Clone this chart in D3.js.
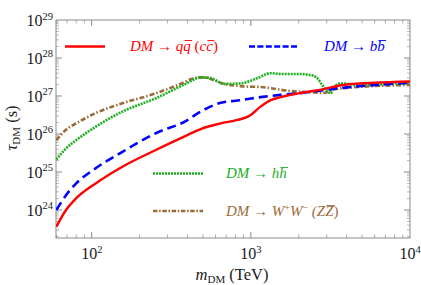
<!DOCTYPE html>
<html><head><meta charset="utf-8">
<script src="https://cdn.jsdelivr.net/npm/d3@7"></script>
<style>
body{margin:0;background:#fff;}
svg text{font-family:"Liberation Serif","Times New Roman","DejaVu Serif",serif;}
</style></head>
<body><svg id="c" width="421" height="285" font-family="Liberation Serif, serif"></svg>
<script>
// Data: mass in TeV, lifetime log10(seconds)
const massQQ = [60,69,80,106,156,253,390,484,647,823,973,1151,1331,1537,1995,2860,3817,10000];
const tauQQ  = [23.56,24.0,24.31,24.70,25.14,25.58,25.95,26.13,26.28,26.37,26.47,26.72,26.89,26.97,27.07,27.18,27.29,27.38];
const massBB = [60,69,80,106,156,253,390,484,647,863,1151,1537,1995,3487,10000];
const tauBB  = [24.0,24.39,24.70,25.10,25.53,26.02,26.34,26.59,26.82,26.89,26.97,27.03,27.07,27.20,27.35];
const massHH = [60,69,80,106,156,253,390,484,560,676,863,1099,1331,1537,1995,2372,2614,2808,3017,3164,3305,3550,3817,4655,10000];
const tauHH  = [25.33,25.62,25.84,26.19,26.59,26.94,27.32,27.49,27.47,27.32,27.33,27.47,27.60,27.58,27.58,27.55,27.47,27.29,27.14,27.07,27.20,27.32,27.33,27.29,27.35];
const massWW = [60,69,80,106,156,253,390,419,506,585,676,863,1203,1777,2372,2860,3305,4224,10000];
const tauWW  = [25.84,26.11,26.28,26.55,26.81,27.07,27.38,27.44,27.49,27.42,27.32,27.26,27.23,27.13,27.10,27.08,27.17,27.22,27.29];
const xTicks = [100,1000,10000];
const yTicks = [24,25,26,27,28,29];

const FONT='"Liberation Serif","Times New Roman",serif';
const svg = d3.select("#c");
const L=56,R=410,T=20,B=238;
const x = d3.scaleLog().domain([59.7,10000]).range([L,R]);
const y = d3.scaleLinear().domain([23.263,29]).range([B,T]);

const frameCol="#8a8a8a";
const g = svg.append("g");
function tickLine(x1,y1,x2,y2,w,c){g.append("line").attr("x1",x1).attr("y1",y1).attr("x2",x2).attr("y2",y2).attr("stroke",c||frameCol).attr("stroke-width",w||0.8);}
for(let d=1;d<=3;d++){
  for(let k=1;k<10;k++){
    const v=k*Math.pow(10,d); if(v<59.7||v>10000) continue;
    const px=x(v); const major=k===1;
    const len=major?6:3.5;
    tickLine(px,B,px,B-len,major?1:0.7);
    tickLine(px,T,px,T+len,major?1:0.7);
  }
}
for(let d=23;d<29;d++){
  for(let k=1;k<10;k++){
    const lv=d+Math.log10(k); if(lv<23.263||lv>29) continue;
    const py=y(lv); const major=k===1;
    const len=major?6:3;
    tickLine(L,py,L+len,py,major?1:0.6);
    tickLine(R,py,R-len,py,major?1:0.6);
  }
}
svg.append("rect").attr("x",L).attr("y",T).attr("width",R-L).attr("height",B-T).attr("fill","none").attr("stroke",frameCol).attr("stroke-width",1);

function T_(sel){return sel.append("text").style("font-family",FONT);}

// tick labels
xTicks.forEach(v=>{
  const t=T_(svg).attr("x",x(v)-10.5).attr("y",259).attr("font-size",16).attr("fill","#1a1a1a");
  t.append("tspan").text("10");
  t.append("tspan").attr("dy",-6.5).attr("font-size",10.5).text(Math.round(Math.log10(v)));
});
yTicks.forEach(v=>{
  const t=T_(svg).attr("x",53).attr("y",y(v)+6).attr("text-anchor","end").attr("font-size",16).attr("fill","#1a1a1a");
  t.append("tspan").text("10");
  t.append("tspan").attr("dy",-6.5).attr("font-size",10.5).text(v);
});

// axis titles
const xt=T_(svg).attr("x",232).attr("y",280).attr("text-anchor","middle").attr("font-size",16.5).attr("fill","#1a1a1a");
xt.append("tspan").attr("font-style","italic").text("m");
xt.append("tspan").attr("font-size",11).attr("dy",2.5).text("DM");
xt.append("tspan").attr("dy",-2.5).text(" (TeV)");
const yt=T_(svg).attr("transform","translate(17,128) rotate(-90)").attr("text-anchor","middle").attr("font-size",16.5).attr("fill","#1a1a1a");
yt.append("tspan").attr("font-style","italic").text("τ");
yt.append("tspan").attr("font-size",11).attr("dy",3).text("DM");
yt.append("tspan").attr("dy",-3).text(" (s)");

// curves
svg.append("clipPath").attr("id","clip").append("rect").attr("x",L).attr("y",T).attr("width",R-L).attr("height",B-T);
const line=d3.line().x(d=>x(d[0])).y(d=>y(d[1])).curve(d3.curveMonotoneX);
const series=[
 {m:massWW,t:tauWW,c:"#9c6b3a",dash:"5,2,1.5,2",w:2.6},
 {m:massHH,t:tauHH,c:"#1fae1f",dash:"2,1",w:2.6},
 {m:massBB,t:tauBB,c:"#0000ff",dash:"9,5",w:2.6},
 {m:massQQ,t:tauQQ,c:"#ff0000",dash:null,w:2.4},
];
const cg=svg.append("g").attr("clip-path","url(#clip)");
series.forEach(s=>{
  cg.append("path").datum(s.m.map((v,i)=>[v,s.t[i]])).attr("d",line).attr("fill","none")
   .attr("stroke",s.c).attr("stroke-width",s.w).attr("stroke-dasharray",s.dash);
});

// legend
function legLine(x1,x2,yy,c,dash){svg.append("line").attr("x1",x1).attr("x2",x2).attr("y1",yy).attr("y2",yy).attr("stroke",c).attr("stroke-width",2.6).attr("stroke-dasharray",dash);}
legLine(65,105,46.5,"#ff0000",null);
legLine(249,297,46.5,"#0000ff","6,2.4");
legLine(153,203,173.5,"#1fae1f","2,1");
legLine(153,203,211,"#9c6b3a","4.5,1.6,1.6,1.6");

const FS=15;
function legText(xx,yy,c,parts){
  const t=T_(svg).attr("x",xx).attr("y",yy).attr("font-size",FS).attr("fill",c).attr("font-style","italic");
  const over=[];
  parts.forEach(p=>{const s=t.append("tspan").text(p[0]);
    if(p[1]==="n") s.attr("font-style","normal");
    if(p[1]==="o") over.push(s);
    if(p[1]==="sup") s.attr("font-size",10).attr("dy",-5.5).attr("font-style","normal");
    if(p[1]==="down") s.attr("dy",5.5);
  });
  over.forEach(s=>{
    const node=s.node();
    const st=node.getStartPositionOfChar(0).x;
    const w=node.getComputedTextLength();
    svg.append("line").attr("x1",st+1.2).attr("x2",st+w+1.2).attr("y1",yy-FS*0.7).attr("y2",yy-FS*0.7)
      .attr("stroke",c).attr("stroke-width",0.9);
  });
  return t;
}
legText(130,51,"#ff0000",[["DM "],["→ ","n"],["q"],["q","o"],[" (","n"],["c"],["c","o"],[")","n"]]);
legText(324,51,"#0000ff",[["DM "],["→ ","n"],["b"],["b","o"]]);
legText(226,178,"#1fae1f",[["DM "],["→ ","n"],["h"],["h","o"]]);
legText(226,216,"#9c6b3a",[["DM "],["→ ","n"],["W"],["+","sup"],["W","down"],["−","sup"],[" (","down"],["Z"],["Z","o"],[")","n"]]);
</script></body></html>
